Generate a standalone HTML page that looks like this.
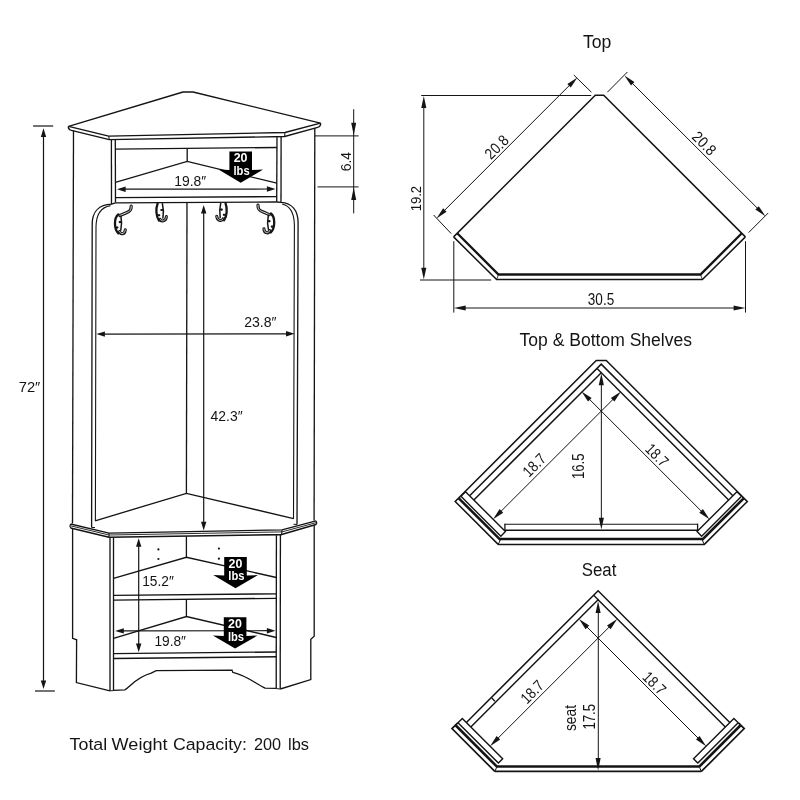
<!DOCTYPE html>
<html lang="en">
<head>
<meta charset="utf-8">
<title>Corner Hall Tree - Dimensions</title>
<style>
html,body{margin:0;padding:0;background:#ffffff;}
body{width:800px;height:800px;overflow:hidden;font-family:"Liberation Sans",sans-serif;}
svg{display:block;will-change:transform;}
svg text{font-family:"Liberation Sans",sans-serif;}
</style>
</head>
<body>
<svg width="800" height="800" viewBox="0 0 800 800">
<rect x="0" y="0" width="800" height="800" fill="#ffffff"/>
<path d="M68.60,126.30 L183.00,92.00 L193.00,92.00 L320.40,123.10" fill="none" stroke="#141414" stroke-width="1.32" stroke-linejoin="round" stroke-linecap="butt"/>
<path d="M68.6,126.3 Q67.6,128.6 70.4,130.1" fill="none" stroke="#141414" stroke-width="1.32" stroke-linejoin="miter" stroke-linecap="butt"/>
<path d="M320.4,123.1 Q321.4,125.4 318.6,127.1" fill="none" stroke="#141414" stroke-width="1.32" stroke-linejoin="miter" stroke-linecap="butt"/>
<path d="M68.60,126.30 L108.70,136.20 L285.00,132.50 L320.40,123.10" fill="none" stroke="#141414" stroke-width="1.32" stroke-linejoin="round" stroke-linecap="butt"/>
<path d="M70.40,130.10 L109.30,139.60 L284.60,136.50 L318.60,127.10" fill="none" stroke="#141414" stroke-width="1.32" stroke-linejoin="round" stroke-linecap="butt"/>
<line x1="108.70" y1="136.20" x2="109.30" y2="139.60" stroke="#141414" stroke-width="1.0" stroke-linecap="butt"/>
<line x1="285.00" y1="132.50" x2="284.60" y2="136.50" stroke="#141414" stroke-width="1.0" stroke-linecap="butt"/>
<line x1="73.50" y1="130.80" x2="72.50" y2="523.60" stroke="#141414" stroke-width="1.32" stroke-linecap="butt"/>
<line x1="314.80" y1="128.00" x2="314.10" y2="520.60" stroke="#141414" stroke-width="1.32" stroke-linecap="butt"/>
<line x1="111.40" y1="139.80" x2="111.50" y2="204.20" stroke="#141414" stroke-width="1.32" stroke-linecap="butt"/>
<line x1="115.30" y1="140.00" x2="115.50" y2="202.60" stroke="#141414" stroke-width="1.32" stroke-linecap="butt"/>
<line x1="277.00" y1="136.80" x2="276.70" y2="201.80" stroke="#141414" stroke-width="1.32" stroke-linecap="butt"/>
<line x1="281.10" y1="136.60" x2="281.00" y2="202.40" stroke="#141414" stroke-width="1.32" stroke-linecap="butt"/>
<line x1="115.30" y1="149.10" x2="277.00" y2="147.50" stroke="#141414" stroke-width="1.32" stroke-linecap="butt"/>
<line x1="187.20" y1="148.40" x2="187.20" y2="161.40" stroke="#141414" stroke-width="1.32" stroke-linecap="butt"/>
<path d="M115.40,182.40 L187.20,161.40 L276.90,183.20" fill="none" stroke="#141414" stroke-width="1.32" stroke-linejoin="miter" stroke-linecap="butt"/>
<line x1="115.40" y1="197.60" x2="276.80" y2="196.60" stroke="#141414" stroke-width="1.32" stroke-linecap="butt"/>
<line x1="115.40" y1="202.80" x2="276.80" y2="202.00" stroke="#141414" stroke-width="1.32" stroke-linecap="butt"/>
<path d="M91.6,527.4 L92.2,224 C92.3,212 99,204.6 111.5,204.2 L115.5,202.8" fill="none" stroke="#141414" stroke-width="1.32" stroke-linejoin="miter" stroke-linecap="butt"/>
<path d="M95.4,521 L96.0,227 C96.1,215 100.6,207.3 110.5,205.6" fill="none" stroke="#141414" stroke-width="1.1" stroke-linejoin="miter" stroke-linecap="butt"/>
<path d="M297.0,524.4 L298.1,222.5 C298.0,210.5 292,203.2 281.0,202.4 L276.8,202.0" fill="none" stroke="#141414" stroke-width="1.32" stroke-linejoin="miter" stroke-linecap="butt"/>
<path d="M293.5,519 L294.4,225.5 C294.3,213.5 290.4,206 282.2,204" fill="none" stroke="#141414" stroke-width="1.1" stroke-linejoin="miter" stroke-linecap="butt"/>
<line x1="91.60" y1="527.40" x2="95.00" y2="527.60" stroke="#141414" stroke-width="1.0" stroke-linecap="butt"/>
<line x1="293.50" y1="524.30" x2="297.00" y2="524.40" stroke="#141414" stroke-width="1.0" stroke-linecap="butt"/>
<line x1="187.00" y1="202.60" x2="186.40" y2="493.40" stroke="#141414" stroke-width="1.32" stroke-linecap="butt"/>
<path d="M95.10,520.80 L186.40,493.40 L293.60,518.60" fill="none" stroke="#141414" stroke-width="1.32" stroke-linejoin="miter" stroke-linecap="butt"/>
<path d="M70.60,524.00 L109.00,533.10 L282.00,529.90 L316.00,520.80" fill="none" stroke="#141414" stroke-width="1.3" stroke-linejoin="round" stroke-linecap="butt"/>
<path d="M70.60,525.80 L109.00,535.00 L282.00,531.90 L316.00,522.70" fill="none" stroke="#141414" stroke-width="0.9" stroke-linejoin="round" stroke-linecap="butt"/>
<path d="M70.60,528.00 L109.00,537.30 L281.60,534.60 L316.00,524.60" fill="none" stroke="#141414" stroke-width="1.6" stroke-linejoin="round" stroke-linecap="butt"/>
<path d="M70.6,524.0 Q69.2,526 70.6,528.0" fill="none" stroke="#141414" stroke-width="1.2" stroke-linejoin="miter" stroke-linecap="butt"/>
<path d="M316.0,520.8 Q317.4,522.7 316.0,524.6" fill="none" stroke="#141414" stroke-width="1.2" stroke-linejoin="miter" stroke-linecap="butt"/>
<line x1="109.00" y1="533.10" x2="109.00" y2="537.30" stroke="#141414" stroke-width="1.0" stroke-linecap="butt"/>
<line x1="282.00" y1="529.90" x2="281.60" y2="534.60" stroke="#141414" stroke-width="1.0" stroke-linecap="butt"/>
<path d="M72.60,528.60 L72.60,638.30 L76.60,639.80 L76.40,682.60 L110.00,690.80" fill="none" stroke="#141414" stroke-width="1.32" stroke-linejoin="miter" stroke-linecap="butt"/>
<path d="M314.20,525.00 L314.20,636.20 L310.80,639.20 L310.80,679.60 L280.30,689.00" fill="none" stroke="#141414" stroke-width="1.32" stroke-linejoin="miter" stroke-linecap="butt"/>
<line x1="110.00" y1="537.60" x2="110.00" y2="690.80" stroke="#141414" stroke-width="1.32" stroke-linecap="butt"/>
<line x1="113.50" y1="537.60" x2="113.50" y2="690.60" stroke="#141414" stroke-width="1.32" stroke-linecap="butt"/>
<line x1="276.40" y1="535.20" x2="276.20" y2="688.60" stroke="#141414" stroke-width="1.32" stroke-linecap="butt"/>
<line x1="280.40" y1="535.00" x2="280.20" y2="689.00" stroke="#141414" stroke-width="1.32" stroke-linecap="butt"/>
<line x1="110.00" y1="690.80" x2="113.50" y2="690.60" stroke="#141414" stroke-width="1.0" stroke-linecap="butt"/>
<line x1="276.20" y1="688.60" x2="280.20" y2="689.00" stroke="#141414" stroke-width="1.0" stroke-linecap="butt"/>
<line x1="186.40" y1="536.40" x2="186.40" y2="557.30" stroke="#141414" stroke-width="1.32" stroke-linecap="butt"/>
<path d="M113.50,578.30 L186.40,557.30 L276.40,577.50" fill="none" stroke="#141414" stroke-width="1.32" stroke-linejoin="miter" stroke-linecap="butt"/>
<line x1="113.50" y1="595.40" x2="276.40" y2="593.80" stroke="#141414" stroke-width="1.32" stroke-linecap="butt"/>
<line x1="113.50" y1="600.10" x2="276.40" y2="598.30" stroke="#141414" stroke-width="1.32" stroke-linecap="butt"/>
<line x1="186.40" y1="599.40" x2="186.40" y2="616.50" stroke="#141414" stroke-width="1.32" stroke-linecap="butt"/>
<path d="M113.50,638.30 L186.40,616.50 L276.30,637.50" fill="none" stroke="#141414" stroke-width="1.32" stroke-linejoin="miter" stroke-linecap="butt"/>
<line x1="113.50" y1="653.70" x2="276.30" y2="652.00" stroke="#141414" stroke-width="1.32" stroke-linecap="butt"/>
<line x1="113.50" y1="658.50" x2="276.30" y2="656.80" stroke="#141414" stroke-width="1.6" stroke-linecap="butt"/>
<path d="M113.5,690.4 L124.8,689.9 C130,687 136,677.4 151.2,673.2 L156.2,670.6 L232.0,670.1 L232.9,672.4 C247,675.6 257,684.6 265.2,688.1 L276.2,688.4" fill="none" stroke="#141414" stroke-width="1.32" stroke-linejoin="miter" stroke-linecap="butt"/>
<path d="M119.60,231.50 C120.40,234.80 124.90,234.60 125.30,229.80" fill="none" stroke="#141414" stroke-width="3.1" stroke-linejoin="round" stroke-linecap="round"/>
<path d="M119.60,231.50 C120.40,234.80 124.90,234.60 125.30,229.80" fill="none" stroke="#ffffff" stroke-width="0.75" stroke-linejoin="round" stroke-linecap="round"/>
<path d="M131.20,206.00 C131.40,210.40 129.60,211.60 126.40,212.70 L119.90,215.50" fill="none" stroke="#141414" stroke-width="3.2" stroke-linejoin="round" stroke-linecap="round"/>
<path d="M131.20,206.00 C131.40,210.40 129.60,211.60 126.40,212.70 L119.90,215.50" fill="none" stroke="#ffffff" stroke-width="0.85" stroke-linejoin="round" stroke-linecap="round"/>
<path d="M118.30,214.40 C113.70,218.20 114.00,229.20 118.40,233.40" fill="none" stroke="#141414" stroke-width="2.3" stroke-linejoin="miter" stroke-linecap="round"/>
<path d="M120.90,216.20 C121.80,221.00 121.80,226.00 120.80,230.20" fill="none" stroke="#141414" stroke-width="1.5" stroke-linejoin="miter" stroke-linecap="round"/>
<circle cx="119.70" cy="222.10" r="1.1" fill="#141414"/>
<circle cx="117.40" cy="227.50" r="1.1" fill="#141414"/>
<line x1="119.50" y1="222.10" x2="121.50" y2="222.10" stroke="#141414" stroke-width="1.9" stroke-linecap="butt"/>
<line x1="115.40" y1="227.50" x2="117.60" y2="227.50" stroke="#141414" stroke-width="1.9" stroke-linecap="butt"/>
<path d="M160.00,219.20 C161.00,222.00 166.00,221.60 166.40,216.60" fill="none" stroke="#141414" stroke-width="3.0" stroke-linejoin="round" stroke-linecap="round"/>
<path d="M160.00,219.20 C161.00,222.00 166.00,221.60 166.40,216.60" fill="none" stroke="#ffffff" stroke-width="0.7" stroke-linejoin="round" stroke-linecap="round"/>
<path d="M157.60,203.60 C155.70,208.60 155.90,216.00 159.00,220.60" fill="none" stroke="#141414" stroke-width="2.3" stroke-linejoin="miter" stroke-linecap="round"/>
<path d="M162.40,203.80 C163.60,208.60 163.60,213.60 162.90,218.00" fill="none" stroke="#141414" stroke-width="1.5" stroke-linejoin="miter" stroke-linecap="round"/>
<circle cx="161.30" cy="210.00" r="1.05" fill="#141414"/>
<circle cx="159.30" cy="215.20" r="1.05" fill="#141414"/>
<line x1="161.00" y1="210.00" x2="163.20" y2="210.00" stroke="#141414" stroke-width="1.8" stroke-linecap="butt"/>
<line x1="156.80" y1="215.20" x2="159.50" y2="215.20" stroke="#141414" stroke-width="1.8" stroke-linecap="butt"/>
<path d="M223.10,218.80 C222.10,221.60 217.10,221.20 216.70,216.20" fill="none" stroke="#141414" stroke-width="3.0" stroke-linejoin="round" stroke-linecap="round"/>
<path d="M223.10,218.80 C222.10,221.60 217.10,221.20 216.70,216.20" fill="none" stroke="#ffffff" stroke-width="0.7" stroke-linejoin="round" stroke-linecap="round"/>
<path d="M225.50,203.20 C227.40,208.20 227.20,215.60 224.10,220.20" fill="none" stroke="#141414" stroke-width="2.3" stroke-linejoin="miter" stroke-linecap="round"/>
<path d="M220.70,203.40 C219.50,208.20 219.50,213.20 220.20,217.60" fill="none" stroke="#141414" stroke-width="1.5" stroke-linejoin="miter" stroke-linecap="round"/>
<circle cx="221.80" cy="209.60" r="1.05" fill="#141414"/>
<circle cx="223.80" cy="214.80" r="1.05" fill="#141414"/>
<line x1="222.10" y1="209.60" x2="219.90" y2="209.60" stroke="#141414" stroke-width="1.8" stroke-linecap="butt"/>
<line x1="226.30" y1="214.80" x2="223.60" y2="214.80" stroke="#141414" stroke-width="1.8" stroke-linecap="butt"/>
<path d="M269.60,230.60 C268.80,233.90 264.30,233.70 263.90,228.90" fill="none" stroke="#141414" stroke-width="3.1" stroke-linejoin="round" stroke-linecap="round"/>
<path d="M269.60,230.60 C268.80,233.90 264.30,233.70 263.90,228.90" fill="none" stroke="#ffffff" stroke-width="0.75" stroke-linejoin="round" stroke-linecap="round"/>
<path d="M258.00,205.10 C257.80,209.50 259.60,210.70 262.80,211.80 L269.30,214.60" fill="none" stroke="#141414" stroke-width="3.2" stroke-linejoin="round" stroke-linecap="round"/>
<path d="M258.00,205.10 C257.80,209.50 259.60,210.70 262.80,211.80 L269.30,214.60" fill="none" stroke="#ffffff" stroke-width="0.85" stroke-linejoin="round" stroke-linecap="round"/>
<path d="M270.90,213.50 C275.50,217.30 275.20,228.30 270.80,232.50" fill="none" stroke="#141414" stroke-width="2.3" stroke-linejoin="miter" stroke-linecap="round"/>
<path d="M268.30,215.30 C267.40,220.10 267.40,225.10 268.40,229.30" fill="none" stroke="#141414" stroke-width="1.5" stroke-linejoin="miter" stroke-linecap="round"/>
<circle cx="269.50" cy="221.20" r="1.1" fill="#141414"/>
<circle cx="271.80" cy="226.60" r="1.1" fill="#141414"/>
<line x1="269.70" y1="221.20" x2="267.70" y2="221.20" stroke="#141414" stroke-width="1.9" stroke-linecap="butt"/>
<line x1="273.80" y1="226.60" x2="271.60" y2="226.60" stroke="#141414" stroke-width="1.9" stroke-linecap="butt"/>
<circle cx="158.4" cy="549.4" r="1.1" fill="#141414"/>
<circle cx="158.4" cy="559.0" r="1.1" fill="#141414"/>
<circle cx="218.9" cy="548.6" r="1.1" fill="#141414"/>
<circle cx="218.9" cy="558.7" r="1.1" fill="#141414"/>
<line x1="33.10" y1="126.00" x2="53.20" y2="126.00" stroke="#141414" stroke-width="1.2" stroke-linecap="butt"/>
<line x1="35.00" y1="691.00" x2="54.80" y2="691.00" stroke="#141414" stroke-width="1.2" stroke-linecap="butt"/>
<line x1="43.50" y1="135.18" x2="43.50" y2="682.12" stroke="#141414" stroke-width="1.2" stroke-linecap="butt"/>
<polygon points="43.50,128.30 46.20,136.90 40.80,136.90" fill="#141414"/>
<polygon points="43.50,689.00 40.80,680.40 46.20,680.40" fill="#141414"/>
<line x1="123.88" y1="189.19" x2="268.62" y2="189.01" stroke="#141414" stroke-width="1.2" stroke-linecap="butt"/>
<polygon points="117.00,189.20 125.60,186.49 125.60,191.89" fill="#141414"/>
<polygon points="275.50,189.00 266.90,191.71 266.90,186.31" fill="#141414"/>
<line x1="103.18" y1="334.09" x2="287.72" y2="333.81" stroke="#141414" stroke-width="1.2" stroke-linecap="butt"/>
<polygon points="96.30,334.10 104.90,331.39 104.90,336.79" fill="#141414"/>
<polygon points="294.60,333.80 286.00,336.51 286.00,331.11" fill="#141414"/>
<line x1="203.70" y1="211.88" x2="203.70" y2="523.52" stroke="#141414" stroke-width="1.2" stroke-linecap="butt"/>
<polygon points="203.70,205.00 206.40,213.60 201.00,213.60" fill="#141414"/>
<polygon points="203.70,530.40 201.00,521.80 206.40,521.80" fill="#141414"/>
<line x1="138.70" y1="545.08" x2="138.70" y2="645.32" stroke="#141414" stroke-width="1.2" stroke-linecap="butt"/>
<polygon points="138.70,538.20 141.40,546.80 136.00,546.80" fill="#141414"/>
<polygon points="138.70,652.20 136.00,643.60 141.40,643.60" fill="#141414"/>
<line x1="122.08" y1="630.89" x2="268.62" y2="630.71" stroke="#141414" stroke-width="1.2" stroke-linecap="butt"/>
<polygon points="115.20,630.90 123.80,628.19 123.80,633.59" fill="#141414"/>
<polygon points="275.50,630.70 266.90,633.41 266.90,628.01" fill="#141414"/>
<line x1="314.90" y1="135.90" x2="358.60" y2="135.90" stroke="#141414" stroke-width="1.0" stroke-linecap="butt"/>
<line x1="317.50" y1="186.90" x2="358.60" y2="186.90" stroke="#141414" stroke-width="1.0" stroke-linecap="butt"/>
<line x1="353.70" y1="109.20" x2="353.70" y2="213.40" stroke="#141414" stroke-width="1.0" stroke-linecap="butt"/>
<polygon points="353.70,135.30 351.20,122.80 356.20,122.80" fill="#141414"/>
<polygon points="353.70,187.50 356.20,200.00 351.20,200.00" fill="#141414"/>
<polygon points="229.40,151.40 252.00,151.40 252.00,170.00 263.10,169.60 240.70,182.70 218.50,169.60 229.40,170.00" fill="#000"/>
<text x="240.60" y="162.30" font-size="12.0" text-anchor="middle" font-weight="bold" fill="#fff" textLength="13.8" lengthAdjust="spacingAndGlyphs">20</text>
<text x="241.60" y="174.60" font-size="12.0" text-anchor="middle" font-weight="bold" fill="#fff" textLength="16.2" lengthAdjust="spacingAndGlyphs">lbs</text>
<polygon points="224.20,556.90 246.80,556.90 246.80,575.50 257.90,575.10 235.50,588.20 213.30,575.10 224.20,575.50" fill="#000"/>
<text x="235.40" y="567.80" font-size="12.0" text-anchor="middle" font-weight="bold" fill="#fff" textLength="13.8" lengthAdjust="spacingAndGlyphs">20</text>
<text x="236.40" y="580.10" font-size="12.0" text-anchor="middle" font-weight="bold" fill="#fff" textLength="16.2" lengthAdjust="spacingAndGlyphs">lbs</text>
<polygon points="223.80,617.30 246.40,617.30 246.40,635.90 257.50,635.50 235.10,648.60 212.90,635.50 223.80,635.90" fill="#000"/>
<text x="235.00" y="628.20" font-size="12.0" text-anchor="middle" font-weight="bold" fill="#fff" textLength="13.8" lengthAdjust="spacingAndGlyphs">20</text>
<text x="236.00" y="640.50" font-size="12.0" text-anchor="middle" font-weight="bold" fill="#fff" textLength="16.2" lengthAdjust="spacingAndGlyphs">lbs</text>
<text x="174.20" y="185.50" font-size="15.1" text-anchor="start" font-weight="normal" fill="#141414" textLength="32.0" lengthAdjust="spacingAndGlyphs">19.8&#8243;</text>
<text x="244.20" y="327.20" font-size="15.1" text-anchor="start" font-weight="normal" fill="#141414" textLength="32.4" lengthAdjust="spacingAndGlyphs">23.8&#8243;</text>
<text x="210.60" y="420.80" font-size="15.1" text-anchor="start" font-weight="normal" fill="#141414" textLength="32.0" lengthAdjust="spacingAndGlyphs">42.3&#8243;</text>
<text x="18.70" y="391.60" font-size="15.1" text-anchor="start" font-weight="normal" fill="#141414" textLength="21.6" lengthAdjust="spacingAndGlyphs">72&#8243;</text>
<text x="142.20" y="586.20" font-size="15.1" text-anchor="start" font-weight="normal" fill="#141414" textLength="31.6" lengthAdjust="spacingAndGlyphs">15.2&#8243;</text>
<text x="154.40" y="646.20" font-size="15.1" text-anchor="start" font-weight="normal" fill="#141414" textLength="31.6" lengthAdjust="spacingAndGlyphs">19.8&#8243;</text>
<text x="350.80" y="161.60" font-size="15.0" text-anchor="middle" font-weight="normal" fill="#141414" transform="rotate(-90 350.80 161.60)" textLength="19.4" lengthAdjust="spacingAndGlyphs">6.4</text>
<text x="69.60" y="749.60" font-size="17.2" text-anchor="start" font-weight="normal" fill="#141414" textLength="37.6" lengthAdjust="spacingAndGlyphs">Total</text>
<text x="111.60" y="749.60" font-size="17.2" text-anchor="start" font-weight="normal" fill="#141414" textLength="56.0" lengthAdjust="spacingAndGlyphs">Weight</text>
<text x="172.90" y="749.60" font-size="17.2" text-anchor="start" font-weight="normal" fill="#141414" textLength="74.0" lengthAdjust="spacingAndGlyphs">Capacity:</text>
<text x="253.90" y="749.60" font-size="17.2" text-anchor="start" font-weight="normal" fill="#141414" textLength="27.1" lengthAdjust="spacingAndGlyphs">200</text>
<text x="288.00" y="749.60" font-size="17.2" text-anchor="start" font-weight="normal" fill="#141414" textLength="21.0" lengthAdjust="spacingAndGlyphs">lbs</text>
<text x="583.00" y="48.20" font-size="18.0" text-anchor="start" font-weight="normal" fill="#141414" textLength="28.4" lengthAdjust="spacingAndGlyphs">Top</text>
<path d="M453.60,236.90 L595.30,95.20 L603.70,95.20 L745.40,236.90" fill="none" stroke="#141414" stroke-width="1.5" stroke-linejoin="miter" stroke-linecap="butt"/>
<path d="M453.60,236.90 L496.60,279.60 L702.40,279.60 L745.40,236.90" fill="none" stroke="#141414" stroke-width="1.5" stroke-linejoin="miter" stroke-linecap="butt"/>
<path d="M457.20,233.30 L498.50,274.50 L700.50,274.50 L741.80,233.30" fill="none" stroke="#141414" stroke-width="2.3" stroke-linejoin="miter" stroke-linecap="butt"/>
<line x1="496.60" y1="279.60" x2="498.50" y2="274.50" stroke="#141414" stroke-width="0.8" stroke-linecap="butt"/>
<line x1="702.40" y1="279.60" x2="700.50" y2="274.50" stroke="#141414" stroke-width="0.8" stroke-linecap="butt"/>
<line x1="421.20" y1="95.50" x2="591.20" y2="95.50" stroke="#141414" stroke-width="1.0" stroke-linecap="butt"/>
<line x1="420.00" y1="280.00" x2="491.20" y2="280.00" stroke="#141414" stroke-width="1.0" stroke-linecap="butt"/>
<line x1="423.80" y1="105.54" x2="423.80" y2="270.16" stroke="#141414" stroke-width="1.0" stroke-linecap="butt"/>
<polygon points="423.80,96.10 426.35,107.90 421.25,107.90" fill="#141414"/>
<polygon points="423.80,279.60 421.25,267.80 426.35,267.80" fill="#141414"/>
<line x1="453.80" y1="241.20" x2="453.80" y2="312.60" stroke="#141414" stroke-width="1.0" stroke-linecap="butt"/>
<line x1="745.50" y1="241.20" x2="745.50" y2="312.60" stroke="#141414" stroke-width="1.0" stroke-linecap="butt"/>
<line x1="463.34" y1="308.00" x2="735.96" y2="308.00" stroke="#141414" stroke-width="1.0" stroke-linecap="butt"/>
<polygon points="453.90,308.00 465.70,305.45 465.70,310.55" fill="#141414"/>
<polygon points="745.40,308.00 733.60,310.55 733.60,305.45" fill="#141414"/>
<line x1="573.80" y1="75.00" x2="591.40" y2="92.20" stroke="#141414" stroke-width="1.0" stroke-linecap="butt"/>
<line x1="433.60" y1="215.00" x2="451.20" y2="233.60" stroke="#141414" stroke-width="1.0" stroke-linecap="butt"/>
<line x1="570.73" y1="84.08" x2="443.17" y2="211.72" stroke="#141414" stroke-width="1.0" stroke-linecap="butt"/>
<polygon points="577.40,77.40 570.76,87.44 567.36,84.05" fill="#141414"/>
<polygon points="436.50,218.40 443.14,208.36 446.54,211.75" fill="#141414"/>
<line x1="607.40" y1="92.20" x2="627.40" y2="72.00" stroke="#141414" stroke-width="1.0" stroke-linecap="butt"/>
<line x1="748.60" y1="232.60" x2="768.20" y2="213.00" stroke="#141414" stroke-width="1.0" stroke-linecap="butt"/>
<line x1="631.08" y1="82.07" x2="758.72" y2="209.53" stroke="#141414" stroke-width="1.0" stroke-linecap="butt"/>
<polygon points="624.40,75.40 634.45,82.04 631.05,85.44" fill="#141414"/>
<polygon points="765.40,216.20 755.35,209.56 758.75,206.16" fill="#141414"/>
<text x="420.70" y="198.60" font-size="15.2" text-anchor="middle" font-weight="normal" fill="#141414" transform="rotate(-90 420.70 198.60)" textLength="25.4" lengthAdjust="spacingAndGlyphs">19.2</text>
<text x="601.00" y="304.60" font-size="15.6" text-anchor="middle" font-weight="normal" fill="#141414" textLength="26.4" lengthAdjust="spacingAndGlyphs">30.5</text>
<text x="500.40" y="150.80" font-size="15.6" text-anchor="middle" font-weight="normal" fill="#141414" transform="rotate(-45 500.40 150.80)" textLength="26.4" lengthAdjust="spacingAndGlyphs">20.8</text>
<text x="700.40" y="147.20" font-size="15.6" text-anchor="middle" font-weight="normal" fill="#141414" transform="rotate(45 700.40 147.20)" textLength="26.4" lengthAdjust="spacingAndGlyphs">20.8</text>
<text x="519.60" y="346.40" font-size="18.0" text-anchor="start" font-weight="normal" fill="#141414" textLength="172.4" lengthAdjust="spacingAndGlyphs">Top &amp; Bottom Shelves</text>
<path d="M498.16,544.40 L455.16,501.41 L596.25,360.40 L606.25,360.40 L747.34,501.41 L704.34,544.40 L498.16,544.40" fill="none" stroke="#141414" stroke-width="1.5" stroke-linejoin="miter" stroke-linecap="butt"/>
<path d="M460.96,496.32 L465.56,491.72 L505.44,531.60 L500.84,536.20 L460.96,496.32" fill="none" stroke="#141414" stroke-width="1.4" stroke-linejoin="miter" stroke-linecap="butt"/>
<path d="M741.54,496.32 L736.94,491.72 L697.06,531.60 L701.66,536.20 L741.54,496.32" fill="none" stroke="#141414" stroke-width="1.4" stroke-linejoin="miter" stroke-linecap="butt"/>
<path d="M455.31,501.55 L460.96,496.32" fill="none" stroke="#141414" stroke-width="1.0" stroke-linejoin="miter" stroke-linecap="butt"/>
<path d="M747.19,501.55 L741.54,496.32" fill="none" stroke="#141414" stroke-width="1.0" stroke-linejoin="miter" stroke-linecap="butt"/>
<path d="M458.84,498.30 L500.42,539.88" fill="none" stroke="#141414" stroke-width="2.6" stroke-linejoin="miter" stroke-linecap="butt"/>
<path d="M743.66,498.30 L702.08,539.88" fill="none" stroke="#141414" stroke-width="2.6" stroke-linejoin="miter" stroke-linecap="butt"/>
<path d="M500.42,539.88 L498.16,544.40" fill="none" stroke="#141414" stroke-width="1.0" stroke-linejoin="miter" stroke-linecap="butt"/>
<path d="M702.08,539.88 L704.34,544.40" fill="none" stroke="#141414" stroke-width="1.0" stroke-linejoin="miter" stroke-linecap="butt"/>
<line x1="500.02" y1="538.90" x2="702.48" y2="538.90" stroke="#141414" stroke-width="2.5" stroke-linecap="butt"/>
<line x1="504.60" y1="524.20" x2="697.90" y2="524.20" stroke="#141414" stroke-width="1.1" stroke-linecap="butt"/>
<line x1="504.60" y1="530.20" x2="697.90" y2="530.20" stroke="#141414" stroke-width="1.45" stroke-linecap="butt"/>
<line x1="504.90" y1="523.70" x2="504.90" y2="530.90" stroke="#141414" stroke-width="1.3" stroke-linecap="butt"/>
<line x1="697.60" y1="523.70" x2="697.60" y2="530.90" stroke="#141414" stroke-width="1.3" stroke-linecap="butt"/>
<path d="M469.62,495.78 L601.25,364.15 L732.88,495.78" fill="none" stroke="#141414" stroke-width="1.45" stroke-linejoin="miter" stroke-linecap="butt"/>
<path d="M473.87,500.03 L601.25,372.65" fill="none" stroke="#141414" stroke-width="1.45" stroke-linejoin="miter" stroke-linecap="butt"/>
<path d="M728.63,500.03 L597.05,368.45" fill="none" stroke="#141414" stroke-width="1.45" stroke-linejoin="miter" stroke-linecap="butt"/>
<line x1="601.35" y1="382.84" x2="601.35" y2="520.16" stroke="#141414" stroke-width="1.0" stroke-linecap="butt"/>
<polygon points="601.35,373.40 603.90,385.20 598.80,385.20" fill="#141414"/>
<polygon points="601.35,529.60 598.80,517.80 603.90,517.80" fill="#141414"/>
<line x1="499.75" y1="512.56" x2="614.32" y2="398.07" stroke="#141414" stroke-width="1.0" stroke-linecap="butt"/>
<polygon points="493.07,519.23 499.61,509.09 503.22,512.69" fill="#141414"/>
<polygon points="621.00,391.40 614.46,401.54 610.85,397.94" fill="#141414"/>
<line x1="702.75" y1="512.56" x2="588.18" y2="398.07" stroke="#141414" stroke-width="1.0" stroke-linecap="butt"/>
<polygon points="709.43,519.23 699.28,512.69 702.89,509.09" fill="#141414"/>
<polygon points="581.50,391.40 591.65,397.94 588.04,401.54" fill="#141414"/>
<text x="538.10" y="468.90" font-size="15.6" text-anchor="middle" font-weight="normal" fill="#141414" transform="rotate(-45 538.10 468.90)" textLength="25.6" lengthAdjust="spacingAndGlyphs">18.7</text>
<text x="653.20" y="459.00" font-size="15.6" text-anchor="middle" font-weight="normal" fill="#141414" transform="rotate(45 653.20 459.00)" textLength="25.6" lengthAdjust="spacingAndGlyphs">18.7</text>
<text x="584.00" y="466.30" font-size="15.6" text-anchor="middle" font-weight="normal" fill="#141414" transform="rotate(-90 584.00 466.30)" textLength="25.6" lengthAdjust="spacingAndGlyphs">16.5</text>
<text x="581.80" y="576.40" font-size="18.0" text-anchor="start" font-weight="normal" fill="#141414" textLength="34.6" lengthAdjust="spacingAndGlyphs">Seat</text>
<path d="M494.83,771.45 L451.98,728.60 L457.99,722.73" fill="none" stroke="#141414" stroke-width="1.7" stroke-linejoin="miter" stroke-linecap="butt"/>
<path d="M701.37,771.45 L744.22,728.60 L738.21,722.73" fill="none" stroke="#141414" stroke-width="1.7" stroke-linejoin="miter" stroke-linecap="butt"/>
<line x1="494.83" y1="771.45" x2="701.37" y2="771.45" stroke="#141414" stroke-width="1.7" stroke-linecap="butt"/>
<path d="M457.99,722.73 L462.31,718.42 L502.68,758.80 L498.37,763.11 L457.99,722.73" fill="none" stroke="#141414" stroke-width="1.4" stroke-linejoin="miter" stroke-linecap="butt"/>
<path d="M738.21,722.73 L733.89,718.42 L693.52,758.80 L697.83,763.11 L738.21,722.73" fill="none" stroke="#141414" stroke-width="1.4" stroke-linejoin="miter" stroke-linecap="butt"/>
<path d="M455.59,725.28 L496.95,766.65" fill="none" stroke="#141414" stroke-width="2.6" stroke-linejoin="miter" stroke-linecap="butt"/>
<path d="M740.61,725.28 L699.25,766.65" fill="none" stroke="#141414" stroke-width="2.6" stroke-linejoin="miter" stroke-linecap="butt"/>
<path d="M496.95,766.65 L494.83,771.45" fill="none" stroke="#141414" stroke-width="1.0" stroke-linejoin="miter" stroke-linecap="butt"/>
<path d="M699.25,766.65 L701.37,771.45" fill="none" stroke="#141414" stroke-width="1.0" stroke-linejoin="miter" stroke-linecap="butt"/>
<line x1="496.55" y1="766.40" x2="699.65" y2="766.40" stroke="#141414" stroke-width="2.5" stroke-linecap="butt"/>
<path d="M466.39,722.51 L598.10,590.80 L729.81,722.51" fill="none" stroke="#141414" stroke-width="1.5" stroke-linejoin="miter" stroke-linecap="butt"/>
<path d="M470.84,726.96 L598.10,599.70 L725.36,726.96" fill="none" stroke="#141414" stroke-width="1.45" stroke-linejoin="miter" stroke-linecap="butt"/>
<line x1="598.40" y1="600.00" x2="593.70" y2="595.30" stroke="#141414" stroke-width="1.45" stroke-linecap="butt"/>
<line x1="491.80" y1="698.00" x2="494.90" y2="701.30" stroke="#141414" stroke-width="1.3" stroke-linecap="butt"/>
<line x1="598.30" y1="611.00" x2="598.30" y2="760.00" stroke="#141414" stroke-width="1.0" stroke-linecap="butt"/>
<polygon points="598.10,601.30 600.65,613.10 595.55,613.10" fill="#141414"/>
<polygon points="598.10,770.60 595.55,758.10 600.65,758.10" fill="#141414"/>
<line x1="496.72" y1="739.48" x2="610.52" y2="625.68" stroke="#141414" stroke-width="1.0" stroke-linecap="butt"/>
<polygon points="490.04,746.16 496.58,736.01 500.19,739.62" fill="#141414"/>
<polygon points="617.20,619.00 610.66,629.15 607.05,625.54" fill="#141414"/>
<line x1="699.48" y1="739.48" x2="585.68" y2="625.68" stroke="#141414" stroke-width="1.0" stroke-linecap="butt"/>
<polygon points="706.16,746.16 696.01,739.62 699.62,736.01" fill="#141414"/>
<polygon points="579.00,619.00 589.15,625.54 585.54,629.15" fill="#141414"/>
<text x="536.00" y="695.60" font-size="15.6" text-anchor="middle" font-weight="normal" fill="#141414" transform="rotate(-45 536.00 695.60)" textLength="25.6" lengthAdjust="spacingAndGlyphs">18.7</text>
<text x="650.60" y="687.00" font-size="15.6" text-anchor="middle" font-weight="normal" fill="#141414" transform="rotate(45 650.60 687.00)" textLength="25.6" lengthAdjust="spacingAndGlyphs">18.7</text>
<text x="575.80" y="718.00" font-size="15.6" text-anchor="middle" font-weight="normal" fill="#141414" transform="rotate(-90 575.80 718.00)" textLength="26.2" lengthAdjust="spacingAndGlyphs">seat</text>
<text x="594.60" y="716.80" font-size="15.6" text-anchor="middle" font-weight="normal" fill="#141414" transform="rotate(-90 594.60 716.80)" textLength="25.6" lengthAdjust="spacingAndGlyphs">17.5</text>
</svg>
</body>
</html>
